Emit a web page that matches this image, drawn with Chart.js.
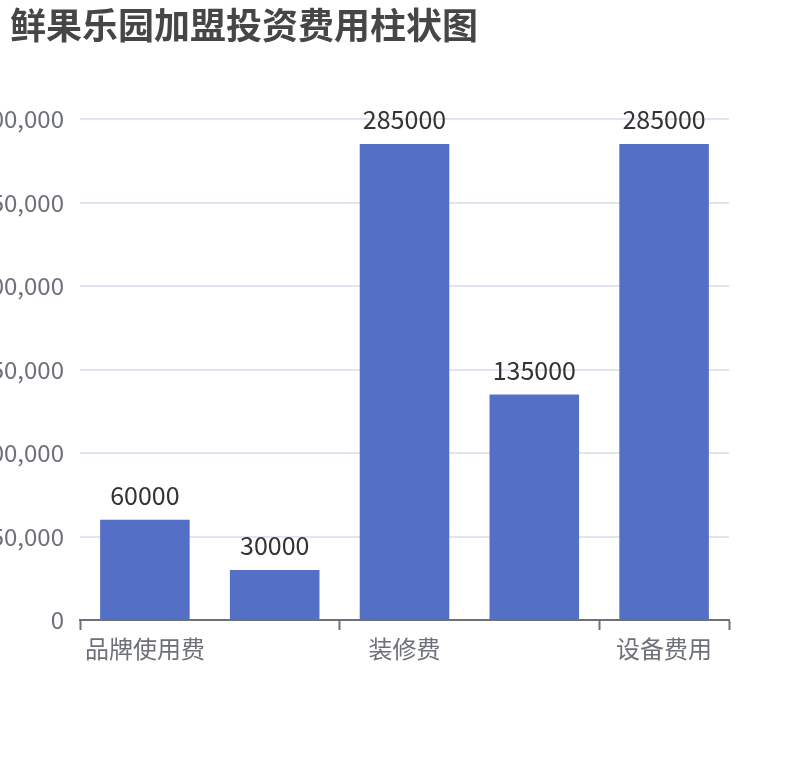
<!DOCTYPE html>
<html>
<head>
<meta charset="utf-8">
<script src="https://cdn.jsdelivr.net/npm/chart.js@4/dist/chart.umd.min.js"></script>
<style>
    body { margin: 0; background: #ffffff; }
    #wrap { width: 810px; height: 760px; }
</style>
</head>
<body>
<div id="wrap"><canvas id="cost-chart" width="810" height="760"></canvas></div>
<script>
// Chart data
const chartTitle = '鲜果乐园加盟投资费用柱状图';
const categories = ['品牌使用费', '加盟费', '装修费', '首批进货费', '设备费用'];
const costValues = [60000, 30000, 285000, 135000, 285000];
const yTicks = [0, 50000, 100000, 150000, 200000, 250000, 300000];

const FONT = '"Noto Sans CJK SC", "Noto Sans", sans-serif';
const AXIS_COLOR = '#6E7079';

// Title drawn at top-left, slightly inset from the canvas edge
const topLeftTitle = {
    id: 'topLeftTitle',
    afterDraw(chart) {
        const ctx = chart.ctx;
        ctx.save();
        ctx.font = 'bold 36px ' + FONT;
        ctx.fillStyle = '#464646';
        ctx.textAlign = 'left';
        ctx.textBaseline = 'middle';
        ctx.fillText(chartTitle, 10, 25);
        ctx.restore();
    }
};

// Draw value labels above each bar
const barValueLabels = {
    id: 'barValueLabels',
    afterDatasetsDraw(chart) {
        const ctx = chart.ctx;
        const meta = chart.getDatasetMeta(0);
        ctx.save();
        ctx.font = '25px ' + FONT;
        ctx.fillStyle = '#333333';
        ctx.textAlign = 'center';
        ctx.textBaseline = 'alphabetic';
        meta.data.forEach((bar, i) => {
            ctx.fillText(String(costValues[i]), bar.x, bar.y - 15);
        });
        ctx.restore();
    }
};

let costChart;

function initCostChart() {
    const ctx = document.getElementById('cost-chart').getContext('2d');

    costChart = new Chart(ctx, {
        type: 'bar',
        data: {
            labels: categories,
            datasets: [{
                label: '费用',
                data: costValues,
                backgroundColor: '#5470C6',
                borderWidth: 0,
                barPercentage: 0.69,
                categoryPercentage: 1
            }]
        },
        options: {
            responsive: false,
            animation: false,
            devicePixelRatio: 1,
            layout: { padding: { left: 0, right: 81, top: 119, bottom: 0 } },
            plugins: {
                legend: { display: false },
                tooltip: { enabled: false },
                title: { display: false }
            },
            scales: {
                x: {
                    offset: true,
                    afterFit: function(scale) { scale.height = 140; },
                    border: { display: true, color: AXIS_COLOR, width: 2 },
                    grid: {
                        offset: true,
                        drawOnChartArea: false,
                        drawTicks: true,
                        tickLength: 10,
                        tickWidth: 2,
                        tickColor: function(context) {
                            return (context.index === 1 || context.index === 3) ? 'rgba(0,0,0,0)' : AXIS_COLOR;
                        }
                    },
                    ticks: {
                        autoSkip: false,
                        maxRotation: 0,
                        padding: 4,
                        color: AXIS_COLOR,
                        font: { family: FONT, size: 24 },
                        callback: function(value, index) {
                            return index % 2 === 0 ? categories[index] : '';
                        }
                    }
                },
                y: {
                    min: yTicks[0],
                    max: yTicks[yTicks.length - 1],
                    afterFit: function(scale) { scale.width = 80; },
                    afterBuildTicks: function(scale) {
                        scale.ticks = yTicks.map(v => ({ value: v }));
                    },
                    border: { display: false },
                    grid: {
                        color: '#E0E6F1',
                        lineWidth: 2,
                        drawTicks: false
                    },
                    ticks: {
                        padding: 16,
                        color: AXIS_COLOR,
                        font: { family: FONT, size: 24 },
                        callback: function(value) {
                            return value.toLocaleString('en-US');
                        }
                    }
                }
            }
        },
        plugins: [barValueLabels, topLeftTitle]
    });
}

initCostChart();
</script>
</body>
</html>
